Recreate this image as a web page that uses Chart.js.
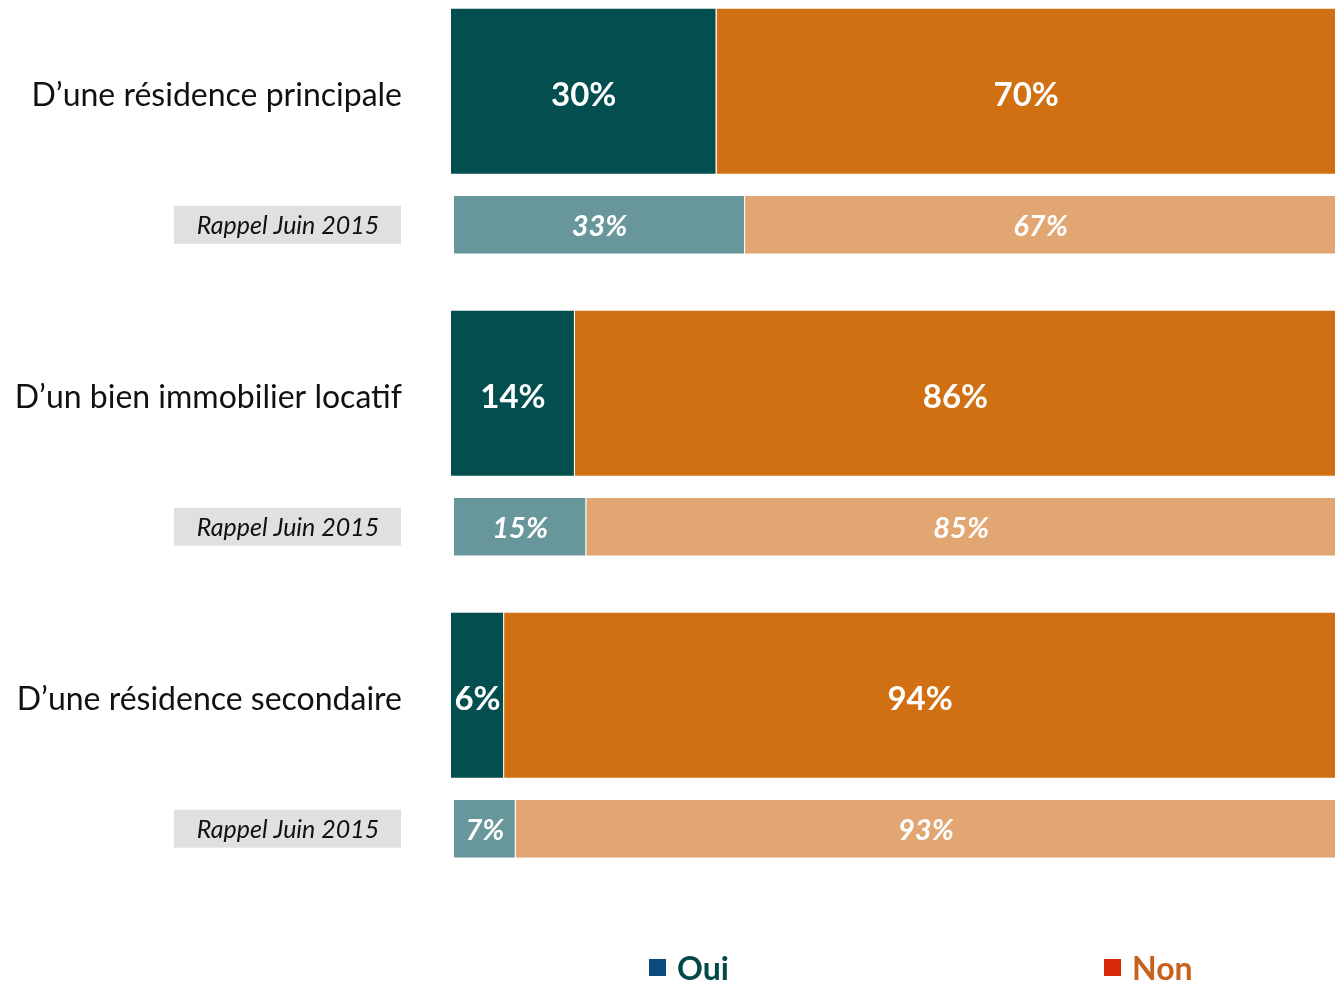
<!DOCTYPE html>
<html>
<head>
<meta charset="utf-8">
<script src="https://cdn.jsdelivr.net/npm/chart.js@4/dist/chart.umd.min.js"></script>
<style>
  html, body { margin: 0; padding: 0; background: #fff; }
  #wrap { position: relative; width: 1336px; height: 983px; }
  #legend { position: absolute; left: 0; top: 948px; width: 1336px; height: 35px; font-family: Lato, sans-serif; font-weight: bold; font-size: 32px; }
  .item { position: absolute; top: 0; display: flex; align-items: center; }
  .sw { width: 17px; height: 17px; margin-right: 11px; }
</style>
</head>
<body>
<div id="wrap">
  <canvas id="c" width="1336" height="983"></canvas>
  <div id="legend">
    <div class="item" style="left:649px;color:#044848"><span class="sw" style="background:#0a4a7c"></span>Oui</div>
    <div class="item" style="left:1104px;color:#c8621b"><span class="sw" style="background:#d9290b"></span>Non</div>
  </div>
</div>
<script>
const categories = ["D\u2019une résidence principale", "D\u2019un bien immobilier locatif", "D\u2019une résidence secondaire"];
const recallLabel = "Rappel Juin 2015";
const ouiNow = [30, 14, 6];
const nonNow = [70, 86, 94];
const ouiRecall = [33, 15, 7];
const nonRecall = [67, 85, 93];

const mainPct = 1.25;
const recallPct = 0.445;

const labelsPlugin = {
  id: 'labelsPlugin',
  afterDatasetsDraw(chart) {
    const ctx = chart.ctx;
    const area = chart.chartArea;
    ctx.save();
    chart.data.datasets.forEach((ds, di) => {
      const meta = chart.getDatasetMeta(di);
      meta.data.forEach((el, i) => {
        const v = ds.data[i];
        const cx = (el.base + el.x) / 2;
        ctx.fillStyle = '#ffffff';
        ctx.textAlign = 'center';
        ctx.textBaseline = 'middle';
        const isMain = ds.stack === 'main';
        ctx.font = isMain ? 'bold 33px Lato, sans-serif' : 'italic bold 29px Lato, sans-serif';
        ctx.fillText(v + '%', cx, el.y + (isMain ? 4 : 2));
      });
    });
    const mainMeta = chart.getDatasetMeta(0);
    const recMeta = chart.getDatasetMeta(2);
    categories.forEach((c, i) => {
      const y = mainMeta.data[i].y;
      ctx.fillStyle = '#111111';
      ctx.textAlign = 'right';
      ctx.textBaseline = 'middle';
      ctx.font = '32px Lato, sans-serif';
      ctx.fillText(c, area.left - 49, y + 4);
      const ry = recMeta.data[i].y;
      ctx.fillStyle = '#e0e0e0';
      ctx.fillRect(174, ry - 19, 227, 38);
      ctx.fillStyle = '#111111';
      ctx.textAlign = 'center';
      ctx.font = 'italic 25px Lato, sans-serif';
      ctx.fillText(recallLabel, 288, ry + 1);
    });
    ctx.restore();
  }
};

new Chart(document.getElementById('c'), {
  type: 'bar',
  data: {
    labels: categories,
    datasets: [
      { label: 'Oui', data: ouiNow, stack: 'main', backgroundColor: '#034f50', barPercentage: mainPct },
      { label: 'Non', data: nonNow, stack: 'main', backgroundColor: '#d07012', barPercentage: mainPct },
      { label: 'Oui 2015', data: ouiRecall, stack: 'recall', xAxisID: 'x2', backgroundColor: '#67979a', barPercentage: recallPct },
      { label: 'Non 2015', data: nonRecall, stack: 'recall', xAxisID: 'x2', backgroundColor: '#e2a673', barPercentage: recallPct }
    ]
  },
  options: {
    indexAxis: 'y',
    responsive: false,
    animation: false,
    devicePixelRatio: 1,
    layout: { padding: { left: 451, right: 0, top: 7, bottom: 70 } },
    datasets: { bar: { categoryPercentage: 0.884, borderColor: '#ffffff', borderWidth: 1, borderSkipped: 'start' } },
    scales: {
      x: { stacked: true, min: 0, max: 100, display: false },
      x2: { type: 'linear', axis: 'x', stacked: true, min: -0.34, max: 100, display: false },
      y: { stacked: true, display: false }
    },
    plugins: { legend: { display: false }, tooltip: { enabled: false } }
  },
  plugins: [labelsPlugin]
});
</script>
</body>
</html>
